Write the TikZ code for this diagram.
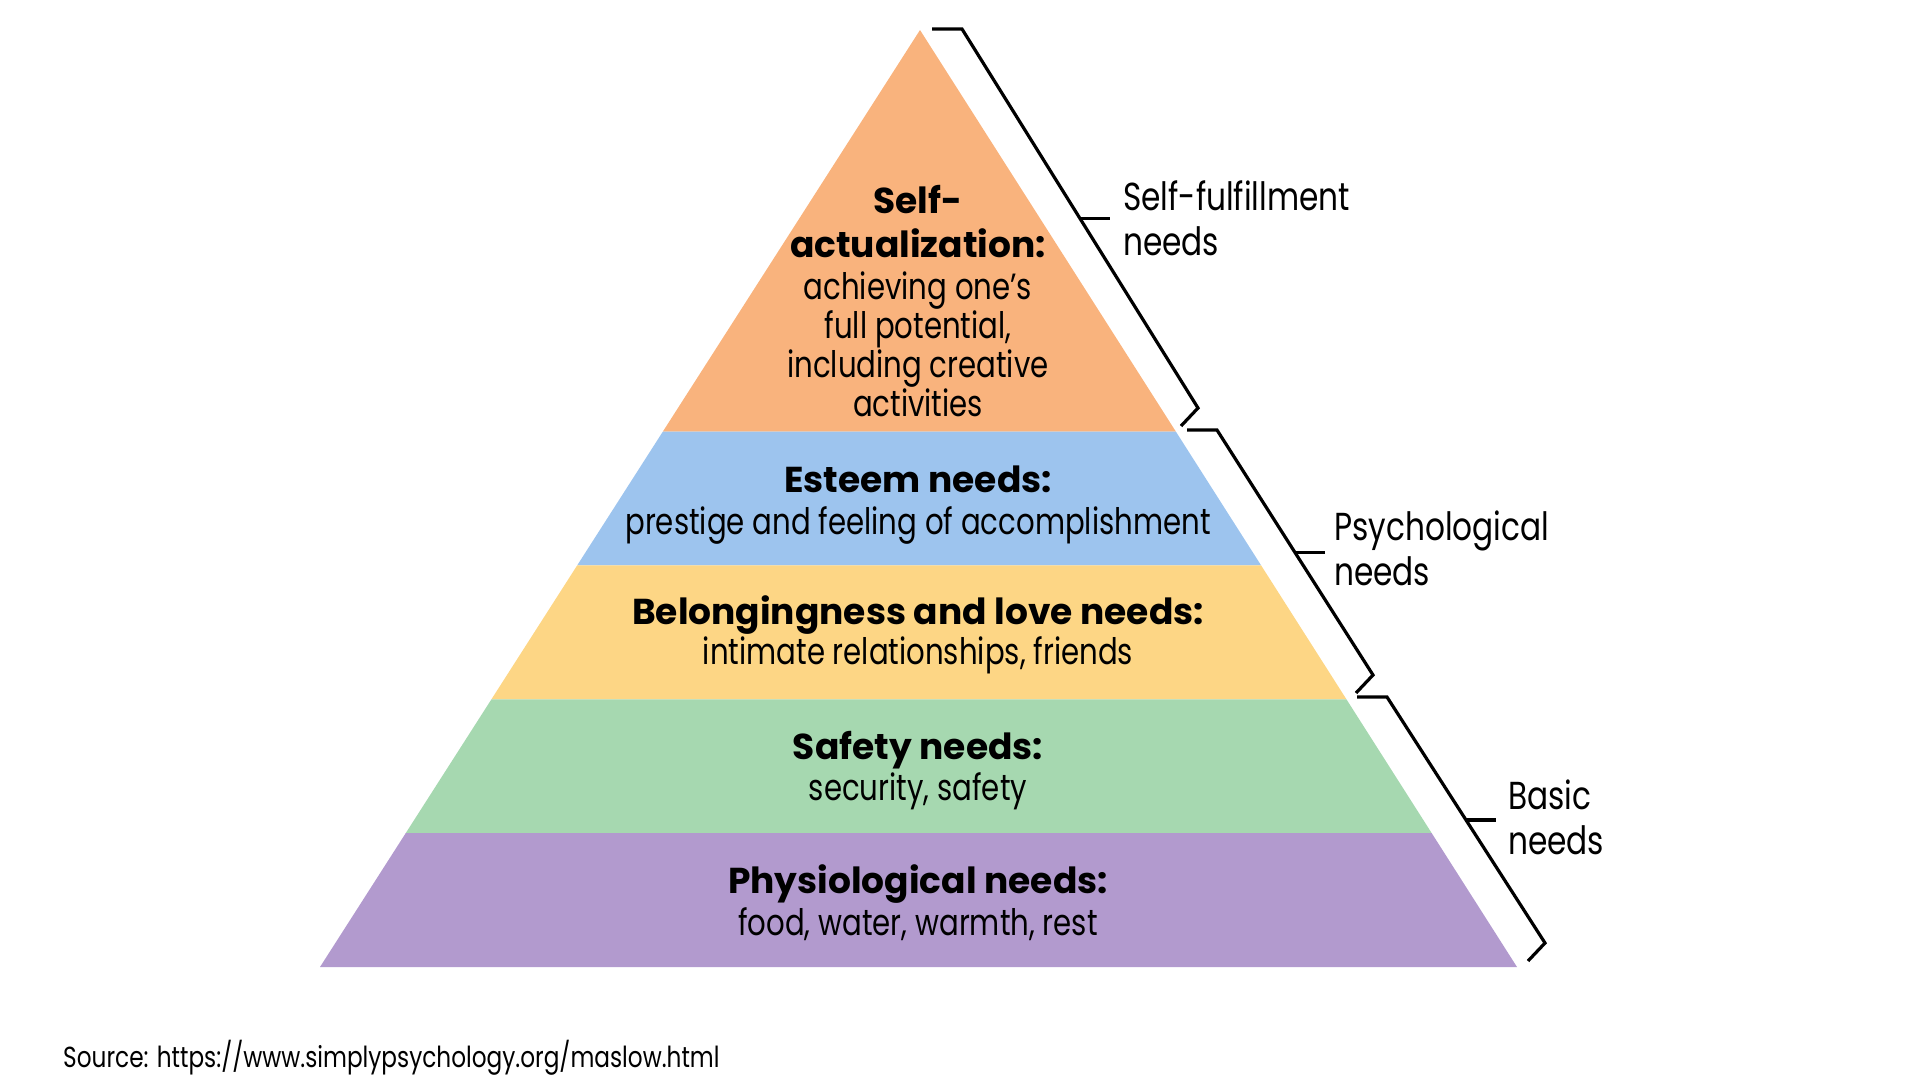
\documentclass[tikz,border=0pt]{standalone}
\usepackage{fontspec}
\setmainfont{Poppins}[FakeStretch=0.8]
\newfontfamily\headfont{Poppins}[FakeStretch=1.0]
\usetikzlibrary{calc}

\definecolor{selfcol}{RGB}{249,179,125}
\definecolor{esteemcol}{RGB}{157,196,238}
\definecolor{lovecol}{RGB}{253,214,133}
\definecolor{safecol}{RGB}{166,216,176}
\definecolor{physcol}{RGB}{178,154,206}

\begin{document}
\begin{tikzpicture}[x=1pt,y=-1pt,
  head/.style={font=\headfont\fontsize{36}{44}\selectfont\bfseries,align=center,inner sep=0pt},
  body/.style={font=\fontsize{36.5}{39}\selectfont,align=center,inner sep=0pt},
  side/.style={font=\fontsize{39}{45}\selectfont,anchor=west,align=left,inner sep=0pt},
  brace/.style={line width=3.2pt,line join=miter}]
\useasboundingbox (0,0) rectangle (1920,1080);

\coordinate (apex) at (920,30);
\coordinate (bl) at (320,967);
\coordinate (br) at (1517,967);

% bands, in sevenths of the height
\foreach \ta/\tb/\col in {0/3/selfcol,3/4/esteemcol,4/5/lovecol,5/6/safecol,6/7/physcol}
  \fill[\col] ($(apex)!{\ta/7}!(bl)$) -- ($(apex)!{\tb/7}!(bl)$)
    -- ($(apex)!{\tb/7}!(br)$) -- ($(apex)!{\ta/7}!(br)$) -- cycle;

\node[head] (selfhead) at (918,222) {Self-\\actualization:};
\node[body] (selfbody) at (918,344) {achieving one’s\\full potential,\\including creative\\activities};
\node[head] (esteemhead) at (918,479) {Esteem needs:};
\node[body] (esteembody) at (918,525) {prestige and feeling of accomplishment};
\node[head] (lovehead) at (918,615) {Belongingness and love needs:};
\node[body] (lovebody) at (918,655) {intimate relationships, friends};
\node[head] (safehead) at (918,750) {Safety needs:};
\node[body] (safebody) at (918,791) {security, safety};
\node[head] (physhead) at (918,884) {Physiological needs:};
\node[body] (physbody) at (918,924) {food, water, warmth, rest};

% brackets on the right
\foreach \nm/\sx/\sy/\ex/\ey in {selfbr/932/29/1198/408,psybr/1187/430/1373/675,basbr/1357/697/1545/943} {
  \coordinate (\nm-s) at (\sx,\sy);
  \coordinate (\nm-e) at (\ex,\ey);
  \draw[brace] (\nm-s) -- ++(30,0) coordinate (\nm-k) -- (\nm-e) -- ++(-17,18);
  \draw[brace] ($(\nm-k)!0.5!(\nm-e)$) coordinate (\nm-m) -- ++(30,0);
}

\node[side] (selflab) at (1123,218) {Self-fulfillment\\needs};
\node[side] (psylab) at (1334,548) {Psychological\\needs};
\node[side] (baslab) at (1508,817) {Basic\\needs};

\node[font=\fontsize{29}{33}\selectfont,anchor=west,inner sep=0pt] (source) at (63,1058)
  {Source: https://www.simplypsychology.org/maslow.html};
\end{tikzpicture}
\end{document}
